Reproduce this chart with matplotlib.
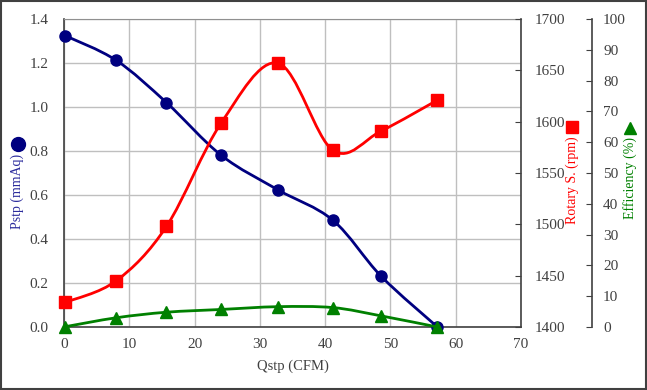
import numpy as np
import matplotlib
matplotlib.use("Agg")
import matplotlib.pyplot as plt
from matplotlib.path import Path
from matplotlib.patches import PathPatch, Rectangle
from matplotlib.lines import Line2D

plt.rcParams['font.family'] = ['Liberation Serif', 'DejaVu Sans']

# datos
qstp = [0.2, 8.0, 15.7, 24.1, 32.8, 41.2, 48.6, 57.2]
pstp = [1.324, 1.212, 1.020, 0.780, 0.623, 0.485, 0.230, 0.0]
rpm = [1424, 1445, 1498, 1599, 1657, 1572, 1591, 1621]
eficiencia = [0.1, 3.0, 4.8, 5.7, 6.6, 6.3, 3.6, 0.0]

azul = '#000080'
rojo = '#ff0000'
verde = '#008000'
gris = '#404040'


def curva_suave(x, y):
    # curva tipo Excel (bezier por puntos de control de Catmull-Rom)
    x = np.asarray(x, float)
    y = np.asarray(y, float)
    n = len(x)
    verts = [(x[0], y[0])]
    codes = [Path.MOVETO]
    for i in range(n - 1):
        i0 = max(i - 1, 0)
        i3 = min(i + 2, n - 1)
        c1 = (x[i] + (x[i + 1] - x[i0]) / 6, y[i] + (y[i + 1] - y[i0]) / 6)
        c2 = (x[i + 1] - (x[i3] - x[i]) / 6, y[i + 1] - (y[i3] - y[i]) / 6)
        verts += [c1, c2, (x[i + 1], y[i + 1])]
        codes += [Path.CURVE4] * 3
    return Path(verts, codes)


fig = plt.figure(figsize=(6.47, 3.90), dpi=100)
ax = fig.add_axes([64 / 647, 63 / 390, 457 / 647, 308 / 390])

ax.set_xlim(0, 70)
ax.set_ylim(0, 1.4)
ax.set_xticks(range(0, 71, 10))
ax.set_yticks(np.arange(0, 1.41, 0.2))
ax.set_yticklabels([f"{v:.1f}" for v in np.arange(0, 1.41, 0.2)])
ax.grid(True, color='#bfbfbf', lw=1)
ax.set_axisbelow(True)
ax.tick_params(axis='both', length=0, labelsize=11, colors=gris)
ax.tick_params(axis='y', pad=11)
ax.tick_params(axis='x', pad=8)
ax.set_xlabel("Qstp (CFM)", fontsize=10.5, color=gris, labelpad=6)
for lado in ['left', 'bottom']:
    ax.spines[lado].set_color(gris)
    ax.spines[lado].set_linewidth(1.2)
ax.spines['top'].set_color('#909090')
ax.spines['right'].set_visible(False)

ax2 = ax.twinx()
ax2.set_ylim(1400, 1700)
ax2.set_yticks(range(1400, 1701, 50))
ax2.tick_params(axis='y', direction='in', length=4, pad=10, labelsize=11,
                colors=gris)
ax2.spines['right'].set_color(gris)
ax2.spines['right'].set_linewidth(1.2)
for lado in ['left', 'top', 'bottom']:
    ax2.spines[lado].set_visible(False)

ax3 = ax.twinx()
ax3.set_ylim(0, 100)
ax3.set_yticks(range(0, 101, 10))
ax3.spines['right'].set_position(('axes', (592 - 64) / 457))
ax3.spines['right'].set_color(gris)
ax3.spines['right'].set_linewidth(1.2)
for lado in ['left', 'top', 'bottom']:
    ax3.spines[lado].set_visible(False)
ax3.tick_params(axis='y', direction='in', length=4, pad=8, labelsize=11,
                colors=gris)

# curvas
ax3.add_patch(PathPatch(curva_suave(qstp, eficiencia), fill=False,
                        edgecolor=verde, lw=2, clip_on=False))
ax3.plot(qstp, eficiencia, ls='none', marker='^', ms=8, color=verde,
         clip_on=False)

ax2.add_patch(PathPatch(curva_suave(qstp, rpm), fill=False,
                        edgecolor=rojo, lw=2, clip_on=False))
ax2.plot(qstp, rpm, ls='none', marker='s', ms=8, color=rojo, clip_on=False)

ax.add_patch(PathPatch(curva_suave(qstp, pstp), fill=False,
                       edgecolor=azul, lw=2, clip_on=False, zorder=3))
ax.plot(qstp, pstp, ls='none', marker='o', ms=8, color=azul, clip_on=False,
        zorder=4)

# etiquetas de ejes con su simbolo
fig.text(17 / 647, 1 - 191 / 390, "Pstp (mmAq)", rotation=90, color='#2b2b9c',
         fontsize=10, ha='center', va='center')
fig.text(572 / 647, 1 - 180 / 390, "Rotary S. (rpm)", rotation=90, color=rojo,
         fontsize=10, ha='center', va='center')
fig.text(630 / 647, 1 - 178 / 390, "Efficiency (%)", rotation=90, color=verde,
         fontsize=10, ha='center', va='center')

simbolos = [(18, 143.5, 'o', azul, 10), (572, 127, 's', rojo, 9),
            (630, 128, '^', verde, 9)]
for sx, sy, m, c, ms in simbolos:
    fig.add_artist(Line2D([sx / 647], [1 - sy / 390], transform=fig.transFigure,
                          ls='none', marker=m, ms=ms, color=c))

fig.add_artist(Rectangle((0.001, 0.002), 0.997, 0.995, transform=fig.transFigure,
                         fill=False, edgecolor=gris, lw=1.5))

fig.savefig("out.png", dpi=100)
